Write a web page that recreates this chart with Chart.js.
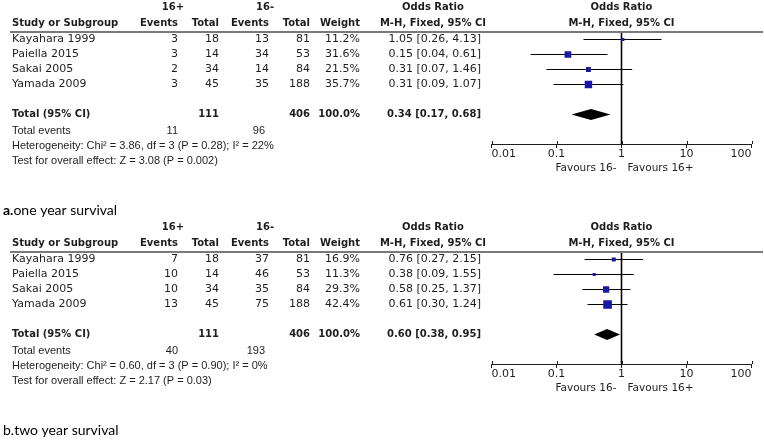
<!DOCTYPE html>
<html>
<head>
<meta charset="utf-8">
<script src="https://cdn.jsdelivr.net/npm/chart.js@4.4.1/dist/chart.umd.min.js"></script>
<style>
  html, body { margin: 0; padding: 0; background: #fff; }
  canvas { position: absolute; left: 0; }
</style>
</head>
<body>
<canvas id="panelA" width="764" height="220" style="top:0"></canvas>
<canvas id="panelB" width="764" height="220" style="top:220px"></canvas>
<script>
// ============= DATA =============
const STUDIES = ['Kayahara 1999', 'Paiella 2015', 'Sakai 2005', 'Yamada 2009'];
const X_TICKS = [0.01, 0.1, 1, 10, 100];
const NO_EFFECT = 1;

// a. one year survival
const A_EVENTS_PLUS  = [3, 3, 2, 3];
const A_TOTAL_PLUS   = [18, 14, 34, 45];
const A_EVENTS_MINUS = [13, 34, 14, 35];
const A_TOTAL_MINUS  = [81, 53, 84, 188];
const A_WEIGHT       = [11.2, 31.6, 21.5, 35.7];
const A_OR           = [1.05, 0.15, 0.31, 0.31];
const A_LOW          = [0.26, 0.04, 0.07, 0.09];
const A_HIGH         = [4.13, 0.61, 1.46, 1.07];
const A_TOTAL_N      = [111, 406];
const A_TOTAL_EVENTS = [11, 96];
const A_POOLED       = [0.34, 0.17, 0.68];
const A_HETERO  = 'Heterogeneity: Chi² = 3.86, df = 3 (P = 0.28); I² = 22%';
const A_OVERALL = 'Test for overall effect: Z = 3.08 (P = 0.002)';

// b. two year survival
const B_EVENTS_PLUS  = [7, 10, 10, 13];
const B_TOTAL_PLUS   = [18, 14, 34, 45];
const B_EVENTS_MINUS = [37, 46, 35, 75];
const B_TOTAL_MINUS  = [81, 53, 84, 188];
const B_WEIGHT       = [16.9, 11.3, 29.3, 42.4];
const B_OR           = [0.76, 0.38, 0.58, 0.61];
const B_LOW          = [0.27, 0.09, 0.25, 0.30];
const B_HIGH         = [2.15, 1.55, 1.37, 1.24];
const B_TOTAL_N      = [111, 406];
const B_TOTAL_EVENTS = [40, 193];
const B_POOLED       = [0.60, 0.38, 0.95];
const B_HETERO  = 'Heterogeneity: Chi² = 0.60, df = 3 (P = 0.90); I² = 0%';
const B_OVERALL = 'Test for overall effect: Z = 2.17 (P = 0.03)';

// ============= STYLE =============
const INK = '#1e1e1e';
const SQUARE = '#1a17a4';
const F_TABLE = '11px "DejaVu Sans"';
const F_BOLD = 'bold 10px "DejaVu Sans"';
const F_NOTE = '11px "Liberation Sans"';
const F_CAPTION = '14px Lato';
const F_CAPTION_B = 'bold 14px Lato';
const Y_MIN = -0.5, Y_MAX = 6.967;

// column anchors (px)
const COL = { study: 12, ev1: 178, n1: 219, ev2: 269, n2: 310, weight: 360, orText: 481, orHead: 433, plus: 173, minus: 265 };

const fmtCI = (or, lo, hi) => `${or.toFixed(2)} [${lo.toFixed(2)}, ${hi.toFixed(2)}]`;

function text(ctx, str, x, y, font, align) {
    ctx.font = font;
    ctx.textAlign = align || 'left';
    ctx.fillText(str, x, y);
}

function tablePlugin(d) {
    return {
        id: 'forestTable',
        afterDatasetsDraw(chart) {
            // pooled diamond
            const { ctx } = chart;
            const sx = chart.scales.x, sy = chart.scales.y;
            const yc = sy.getPixelForValue(5);
            ctx.save();
            ctx.fillStyle = '#000';
            ctx.beginPath();
            ctx.moveTo(sx.getPixelForValue(d.pooled[1]), yc);
            ctx.lineTo(sx.getPixelForValue(d.pooled[0]), yc - 5.5);
            ctx.lineTo(sx.getPixelForValue(d.pooled[2]), yc);
            ctx.lineTo(sx.getPixelForValue(d.pooled[0]), yc + 5.5);
            ctx.closePath();
            ctx.fill();
            ctx.restore();
        },
        afterDraw(chart) {
            const { ctx, chartArea } = chart;
            const sx = chart.scales.x, sy = chart.scales.y;
            const y = r => sy.getPixelForValue(r);
            const x1 = sx.getPixelForValue(NO_EFFECT);
            ctx.save();

            // header rule
            ctx.strokeStyle = '#7a7a7a';
            ctx.lineWidth = 2;
            ctx.beginPath();
            ctx.moveTo(10, chartArea.top);
            ctx.lineTo(763, chartArea.top);
            ctx.stroke();

            // upper half of axis ticks
            ctx.strokeStyle = INK;
            ctx.lineWidth = 1;
            X_TICKS.forEach(v => {
                const px = Math.round(sx.getPixelForValue(v)) + 0.5;
                ctx.beginPath();
                ctx.moveTo(px, chartArea.bottom - 3);
                ctx.lineTo(px, chartArea.bottom);
                ctx.stroke();
            });

            ctx.fillStyle = INK;
            ctx.textBaseline = 'middle';

            // headers
            const h1 = y(-2.15), h2 = y(-1.1);
            text(ctx, '16+', COL.plus, h1, F_BOLD, 'center');
            text(ctx, '16-', COL.minus, h1, F_BOLD, 'center');
            text(ctx, 'Odds Ratio', COL.orHead, h1, F_BOLD, 'center');
            text(ctx, 'Odds Ratio', x1, h1, F_BOLD, 'center');
            text(ctx, 'Study or Subgroup', COL.study, h2, F_BOLD);
            text(ctx, 'Events', COL.ev1, h2, F_BOLD, 'right');
            text(ctx, 'Total', COL.n1, h2, F_BOLD, 'right');
            text(ctx, 'Events', COL.ev2, h2, F_BOLD, 'right');
            text(ctx, 'Total', COL.n2, h2, F_BOLD, 'right');
            text(ctx, 'Weight', COL.weight, h2, F_BOLD, 'right');
            text(ctx, 'M-H, Fixed, 95% CI', COL.orHead, h2, F_BOLD, 'center');
            text(ctx, 'M-H, Fixed, 95% CI', x1, h2, F_BOLD, 'center');

            // study rows
            STUDIES.forEach((s, i) => {
                const yy = y(i);
                text(ctx, s, COL.study, yy, F_TABLE);
                text(ctx, String(d.evPlus[i]), COL.ev1, yy, F_TABLE, 'right');
                text(ctx, String(d.nPlus[i]), COL.n1, yy, F_TABLE, 'right');
                text(ctx, String(d.evMinus[i]), COL.ev2, yy, F_TABLE, 'right');
                text(ctx, String(d.nMinus[i]), COL.n2, yy, F_TABLE, 'right');
                text(ctx, d.weight[i].toFixed(1) + '%', COL.weight, yy, F_TABLE, 'right');
                text(ctx, fmtCI(d.or[i], d.low[i], d.high[i]), COL.orText, yy, F_TABLE, 'right');
            });

            // total row
            const yt = y(5);
            text(ctx, 'Total (95% CI)', COL.study, yt, F_BOLD);
            text(ctx, String(d.totalN[0]), COL.n1, yt, F_BOLD, 'right');
            text(ctx, String(d.totalN[1]), COL.n2, yt, F_BOLD, 'right');
            text(ctx, '100.0%', COL.weight, yt, F_BOLD, 'right');
            text(ctx, fmtCI(d.pooled[0], d.pooled[1], d.pooled[2]), COL.orText, yt, F_BOLD, 'right');

            // footnotes
            const ye = y(6.1);
            text(ctx, 'Total events', COL.study, ye, F_NOTE);
            text(ctx, String(d.totalEvents[0]), COL.ev1, ye, F_NOTE, 'right');
            text(ctx, String(d.totalEvents[1]), COL.minus, ye, F_NOTE, 'right');
            text(ctx, d.hetero, COL.study, y(7.1), F_NOTE);
            text(ctx, d.overall, COL.study, y(8.1), F_NOTE);

            // favours labels
            const yf = chartArea.bottom + 24;
            text(ctx, 'Favours 16-', x1 - 5, yf, '10.5px "DejaVu Sans"', 'right');
            text(ctx, 'Favours 16+', x1 + 6, yf, '10.5px "DejaVu Sans"', 'left');

            // caption
            ctx.fillStyle = '#000';
            ctx.textAlign = 'left';
            let cx = 3;
            if (d.captionBold) {
                ctx.font = F_CAPTION_B;
                ctx.fillText(d.captionBold, cx, 210);
                cx += ctx.measureText(d.captionBold).width;
            }
            ctx.font = F_CAPTION;
            ctx.fillText(d.caption, cx, 210);

            ctx.restore();
        }
    };
}

function makePanel(id, d) {
    const rows = STUDIES.map((s, i) => i);
    const squareSide = d.weight.map(w => 0.18 * w + 1);

    const datasets = [{
        label: 'OR',
        data: rows.map(i => ({ x: d.or[i], y: i })),
        pointStyle: 'rect',
        pointRadius: squareSide.map(s => s / (2 * Math.SQRT1_2)),
        pointBackgroundColor: SQUARE,
        pointBorderWidth: 0,
        showLine: false,
        order: 0
    }];
    rows.forEach(i => {
        datasets.push({
            label: STUDIES[i],
            data: [{ x: d.low[i], y: i }, { x: d.high[i], y: i }],
            showLine: true,
            borderColor: '#000',
            borderWidth: 1,
            pointRadius: 0,
            order: 1
        });
    });
    // line of no effect (OR = 1)
    datasets.push({
        label: 'no effect',
        data: [{ x: NO_EFFECT, y: Y_MIN }, { x: NO_EFFECT, y: Y_MAX }],
        showLine: true,
        borderColor: '#000',
        borderWidth: 1.6,
        pointRadius: 0,
        order: 2
    });

    new Chart(document.getElementById(id), {
        type: 'scatter',
        data: { datasets },
        options: {
            responsive: false,
            animation: false,
            events: [],
            layout: { padding: { left: 491.5, right: 12.5, top: 32, bottom: 54 } },
            plugins: {
                legend: { display: false },
                tooltip: { enabled: false }
            },
            scales: {
                x: {
                    type: 'logarithmic',
                    min: 0.01,
                    max: 100,
                    afterBuildTicks: (scale) => { scale.ticks = X_TICKS.map(v => ({ value: v })); },
                    afterFit: (scale) => { scale.height = 22; },
                    grid: { drawOnChartArea: false, drawTicks: true, tickLength: 4, color: INK },
                    border: { display: true, color: INK, width: 1 },
                    ticks: {
                        color: INK,
                        font: { family: 'DejaVu Sans', size: 11 },
                        padding: 0,
                        align: 'inner',
                        maxRotation: 0,
                        autoSkip: false,
                        callback: (v) => String(v)
                    }
                },
                y: {
                    type: 'linear',
                    display: false,
                    reverse: true,
                    min: Y_MIN,
                    max: Y_MAX
                }
            }
        },
        plugins: [tablePlugin(d)]
    });
}

makePanel('panelA', {
    evPlus: A_EVENTS_PLUS, nPlus: A_TOTAL_PLUS, evMinus: A_EVENTS_MINUS, nMinus: A_TOTAL_MINUS,
    weight: A_WEIGHT, or: A_OR, low: A_LOW, high: A_HIGH,
    totalN: A_TOTAL_N, totalEvents: A_TOTAL_EVENTS, pooled: A_POOLED,
    hetero: A_HETERO, overall: A_OVERALL,
    captionBold: 'a.', caption: 'one year survival'
});

makePanel('panelB', {
    evPlus: B_EVENTS_PLUS, nPlus: B_TOTAL_PLUS, evMinus: B_EVENTS_MINUS, nMinus: B_TOTAL_MINUS,
    weight: B_WEIGHT, or: B_OR, low: B_LOW, high: B_HIGH,
    totalN: B_TOTAL_N, totalEvents: B_TOTAL_EVENTS, pooled: B_POOLED,
    hetero: B_HETERO, overall: B_OVERALL,
    captionBold: '', caption: 'b.two year survival'
});
</script>
</body>
</html>
